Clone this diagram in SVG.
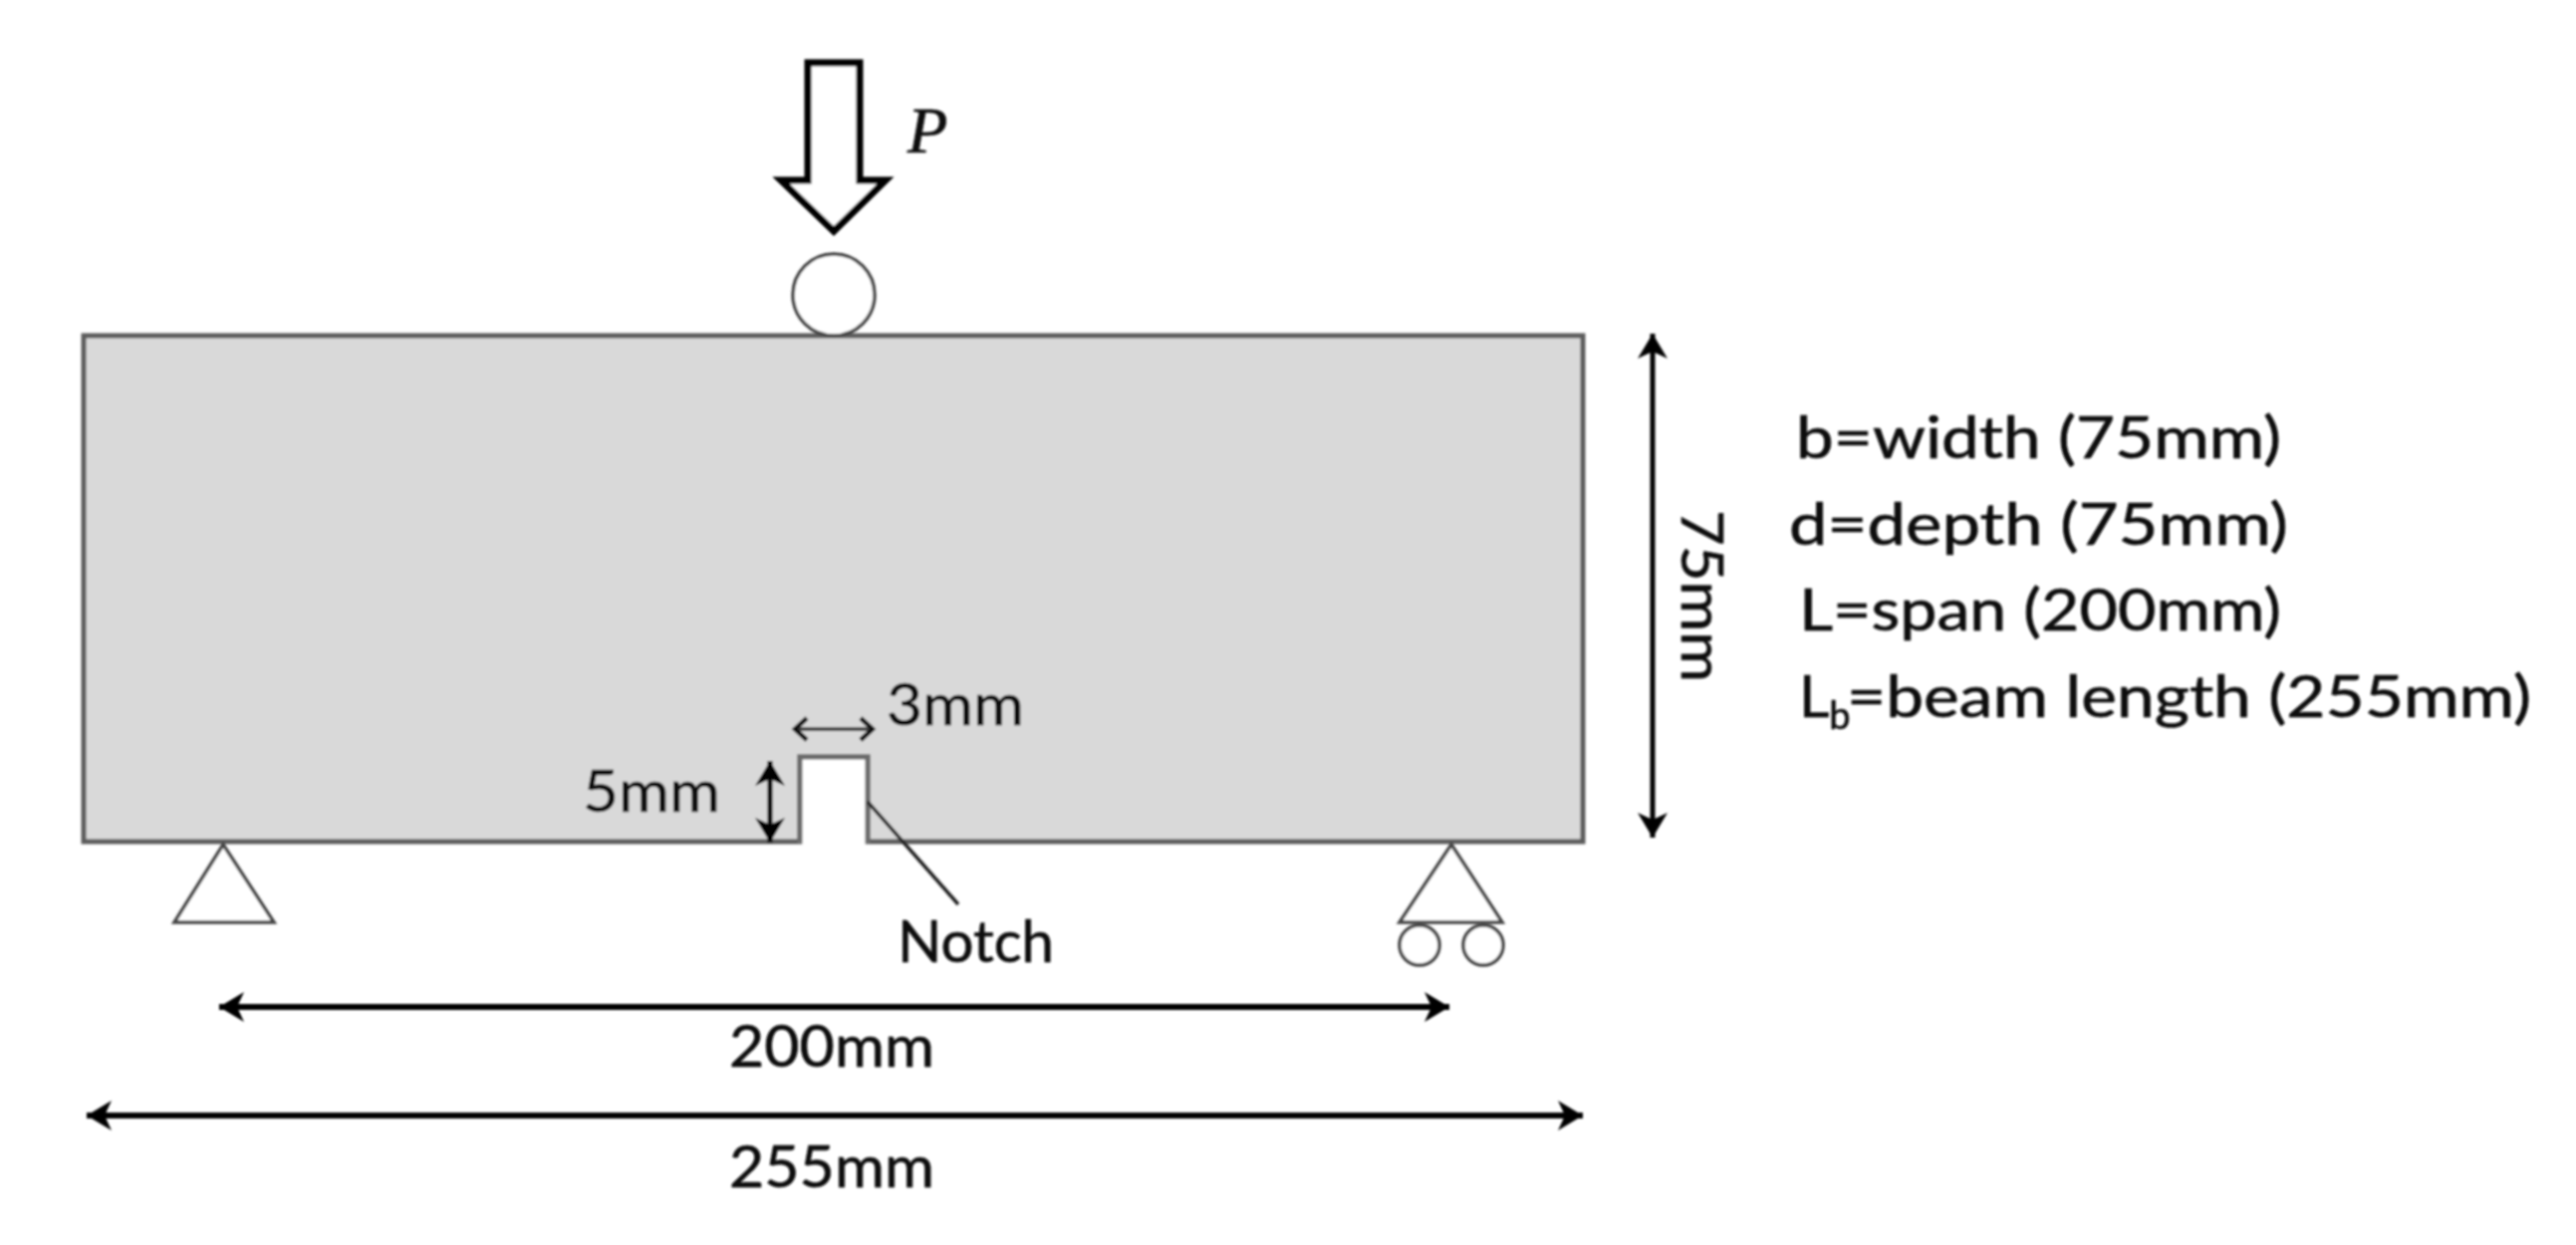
<svg xmlns="http://www.w3.org/2000/svg" width="2586" height="1250" viewBox="0 0 2586 1250">
<style>
text{font-family:Lato,"Liberation Sans",sans-serif;font-size:59px;fill:#111;stroke:#111;stroke-width:0.7}
.p{font-family:"Liberation Serif",serif;font-style:italic;font-size:66px}
.dim{stroke:#000;stroke-width:6;fill:none;marker-start:url(#hs);marker-end:url(#he)}
.thin{stroke:#444;stroke-width:4;fill:none;marker-start:url(#ts);marker-end:url(#te)}
.sup{fill:#fff;stroke:#444;stroke-width:3.5}
</style>
<defs>
<filter id="soft" x="-5%" y="-5%" width="110%" height="110%"><feGaussianBlur stdDeviation="0.9"/></filter>
<marker id="he" markerUnits="userSpaceOnUse" markerWidth="34" markerHeight="36" refX="27" refY="18" orient="auto"><path d="M27,18 L2,3 L9,18 L2,33Z" fill="#000"/></marker>
<marker id="hs" markerUnits="userSpaceOnUse" markerWidth="34" markerHeight="36" refX="0" refY="18" orient="auto"><path d="M0,18 L25,3 L18,18 L25,33Z" fill="#000"/></marker>
<marker id="te" markerUnits="userSpaceOnUse" markerWidth="24" markerHeight="28" refX="21" refY="14" orient="auto"><path d="M8,3 L20,14 L8,25" fill="none" stroke="#111" stroke-width="4.5"/></marker>
<marker id="ts" markerUnits="userSpaceOnUse" markerWidth="24" markerHeight="28" refX="3" refY="14" orient="auto"><path d="M16,3 L4,14 L16,25" fill="none" stroke="#111" stroke-width="4.5"/></marker>
</defs>
<rect width="2586" height="1250" fill="#fff"/>
<g filter="url(#soft)">
<g id="beam">
<path d="M84,337H1589V845H871V760H803V845H84Z" fill="#d9d9d9" stroke="#5c5c5c" stroke-width="5"/>
<path d="M803,847V760H871V847" fill="#fff" stroke="#6a6a6a" stroke-width="5"/>
</g>
<g id="load-arrow"><path d="M811,63H863V181H889L837,232L784,181H811Z" fill="#fff" stroke="#000" stroke-width="7"/><text class="p" x="911" y="153">P</text></g>
<g id="load-roller"><circle cx="837" cy="296" r="41" fill="#fff" stroke="#444" stroke-width="3.5"/></g>
<g id="left-support"><path class="sup" d="M224,848L275,926H175Z"/></g>
<g id="right-support"><path class="sup" d="M1457,848L1508,926H1405Z"/><circle class="sup" cx="1425" cy="949" r="20"/><circle class="sup" cx="1489" cy="949" r="20"/></g>
<g id="connectors">
<line class="dim" x1="220" y1="1011" x2="1455" y2="1011"/>
<line class="dim" x1="87" y1="1120" x2="1589" y2="1120"/>
<line class="dim" style="stroke-width:5" x1="1659" y1="335" x2="1659" y2="841"/>
<line class="dim" style="stroke-width:5" x1="773" y1="764" x2="773" y2="846"/>
<line class="thin" x1="797" y1="732" x2="877" y2="732"/>
<line x1="871" y1="805" x2="962" y2="908" stroke="#222" stroke-width="3.5"/>
</g>
<g id="labels">
<text x="890" y="728" textLength="138" lengthAdjust="spacingAndGlyphs">3mm</text>
<text x="585" y="815" textLength="138" lengthAdjust="spacingAndGlyphs">5mm</text>
<text x="901" y="966" textLength="157" lengthAdjust="spacingAndGlyphs">Notch</text>
<text x="732" y="1071" textLength="206" lengthAdjust="spacingAndGlyphs">200mm</text>
<text x="732" y="1192" textLength="206" lengthAdjust="spacingAndGlyphs">255mm</text>
<text transform="translate(1688,512) rotate(90)" textLength="173" lengthAdjust="spacingAndGlyphs">75mm</text>
<text x="1803" y="460" textLength="487" lengthAdjust="spacingAndGlyphs">b=width (75mm)</text>
<text x="1796" y="547" textLength="501" lengthAdjust="spacingAndGlyphs">d=depth (75mm)</text>
<text x="1806" y="633" textLength="484" lengthAdjust="spacingAndGlyphs">L=span (200mm)</text>
<text x="1806" y="720">L<tspan dy="12" font-size="38">b</tspan><tspan dy="-12" x="1854" textLength="687" lengthAdjust="spacingAndGlyphs">=beam length (255mm)</tspan></text>
</g>
</g>
</svg>
